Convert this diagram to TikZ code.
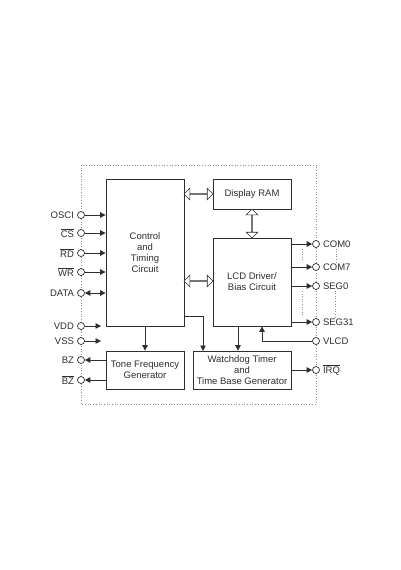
\documentclass[tikz,border=0pt]{standalone}
\usepackage{fontspec}
\setmainfont{Liberation Sans}
\usetikzlibrary{arrows.meta,shapes.arrows,calc}
\definecolor{Ink}{HTML}{2E2E2E}
\definecolor{Frame}{HTML}{8C8C8C}
\newcommand{\nbar}[1]{$\overline{\mbox{#1}}$}
\tikzset{
  >={Triangle[length=5.5pt,width=5.5pt]},
  blk/.style={draw=Ink,line width=.8pt,fill=white,align=center,font=\fontsize{9.5}{11}\selectfont,text=Ink,inner sep=0pt},
  port/.style={circle,draw=Ink,line width=.7pt,fill=white,minimum size=7pt,inner sep=0pt},
  sig/.style={->,line width=.8pt,draw=Ink},
  bus/.style={double arrow,draw=Ink,line width=.6pt,fill=white,double arrow head extend=5.5pt,minimum width=5.5pt,minimum height=29pt,inner sep=0pt},
  lbl/.style={font=\fontsize{9.5}{11}\selectfont,text=Ink,inner sep=1pt},
  gap/.style={dotted,draw=Frame,line width=.6pt},
  chip/.style={dotted,draw=Frame,line width=.7pt}
}
\begin{document}
\begin{tikzpicture}[x=1pt,y=-1pt,label distance=2pt]
  \useasboundingbox[fill=white] (0,0) rectangle (400,570);
  \draw[chip] (81,165) rectangle (316,404);
  % blocks
  \node[blk,minimum width=78pt,minimum height=147pt] (ctl) at (145,252.5) {Control\\and\\Timing\\Circuit};
  \node[blk,minimum width=78pt,minimum height=30pt] (ram) at (252,194) {Display RAM};
  \node[blk,minimum width=78pt,minimum height=88pt] (lcd) at (252,282) {LCD Driver/\\Bias Circuit};
  \node[blk,minimum width=78pt,minimum height=38pt] (tone) at (145,370) {Tone Frequency\\Generator};
  \node[blk,minimum width=98pt,minimum height=38pt] (wdt) at (242,370) {Watchdog Timer\\and\\Time Base Generator};
  % buses
  \node[bus] (busram) at ($(ctl.east |- ram.west)!.5!(ram.west)$) {};
  \node[bus] (buslcd) at ($(ctl.east |- 0,281)!.5!(lcd.west |- 0,281)$) {};
  \node[bus,shape border rotate=90] (busmem) at ($(ram.south)!.5!(lcd.north)$) {};
  % left pins
  \node[port,label={[lbl]left:OSCI}] (osci) at (81,215) {};
  \node[port,label={[lbl]left:\nbar{CS}}] (cs) at (81,233) {};
  \node[port,label={[lbl]left:\nbar{RD}}] (rd) at (81,253) {};
  \node[port,label={[lbl]left:\nbar{WR}}] (wr) at (81,272) {};
  \node[port,label={[lbl]left:DATA}] (data) at (81,293) {};
  \node[port,label={[lbl]left:VDD}] (vdd) at (81,326) {};
  \node[port,label={[lbl]left:VSS}] (vss) at (81,341) {};
  \node[port,label={[lbl]left:BZ}] (bz) at (81,360) {};
  \node[port,label={[lbl]left:\nbar{BZ}}] (nbz) at (81,380) {};
  \coordinate (vddend) at (101,326);
  \coordinate (vssend) at (101,341);
  % right pins
  \node[port,label={[lbl,name=com0l]right:COM0}] (com0) at (316,244) {};
  \node[port,label={[lbl,name=com7l]right:COM7}] (com7) at (316,267) {};
  \node[port,label={[lbl,name=seg0l]right:SEG0}] (seg0) at (316,286) {};
  \node[port,label={[lbl,name=seg31l]right:SEG31}] (seg31) at (316,322) {};
  \node[port,label={[lbl]right:VLCD}] (vlcd) at (316,341) {};
  \node[port,label={[lbl]right:\nbar{IRQ}}] (irq) at (316,370) {};
  % signals
  \foreach \p in {osci,cs,rd,wr}
    \draw[sig] (\p) -- (\p -| ctl.west);
  \draw[sig,<->] (data) -- (data -| ctl.west);
  \draw[sig] (vdd) -- (vddend);
  \draw[sig] (vss) -- (vssend);
  \foreach \p in {bz,nbz}
    \draw[sig] (\p -| tone.west) -- (\p);
  \foreach \p in {com0,com7,seg0,seg31}
    \draw[sig] (\p -| lcd.east) -- (\p);
  \draw[sig] (ctl.south) -- (tone.north);
  \coordinate (tapA) at (184,316);
  \coordinate (tapB) at (203,351);
  \draw[sig] (tapA) -| (tapB);
  \draw[sig] ([xshift=-14pt]lcd.south) -- ([xshift=-14pt]lcd.south |- wdt.north);
  \draw[sig] (vlcd) -| ([xshift=10pt]lcd.south);
  \draw[sig] (wdt.east) -- (irq);
  % skipped outputs
  \draw[gap] ($(com0)+(-14,5)$) -- ($(com7)+(-14,-5)$);
  \draw[gap] ($(seg0)+(-14,5)$) -- ($(seg31)+(-14,-5)$);
  \draw[gap] (com0l.south) -- (com0l.south |- com7l.north);
  \draw[gap] (seg0l.south) -- (seg0l.south |- seg31l.north);
\end{tikzpicture}
\end{document}
